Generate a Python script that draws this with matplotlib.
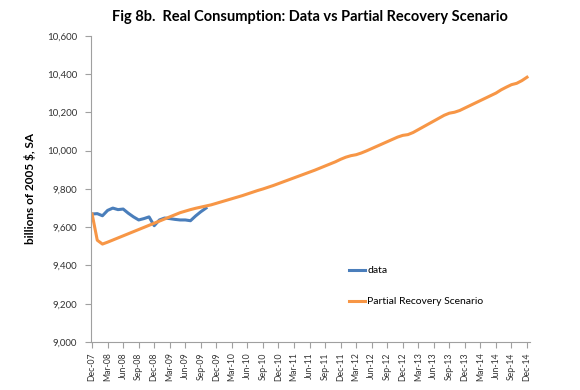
import pandas as pd
import matplotlib
matplotlib.use("Agg")
import matplotlib.pyplot as plt

# monthly, Dec-07 .. Dec-14
months = pd.date_range("2007-12-01", "2014-12-01", freq="MS")
month_labels = [d.strftime("%b-%y") for d in months]

# billions of 2005 $, SA
data_values = [9669, 9671, 9660, 9688, 9700, 9692, 9695, 9673, 9654, 9638,
               9645, 9654, 9608, 9638, 9648, 9645, 9641, 9638, 9638, 9634,
               9659, 9681, 9700]

scenario_values = [9669, 9532, 9512, 9522, 9533, 9544, 9555, 9566, 9577, 9588,
                   9599, 9610, 9621, 9632, 9643, 9654, 9665, 9676, 9684, 9692,
                   9699, 9705, 9711, 9717, 9725, 9733, 9741, 9749, 9757, 9765,
                   9774, 9783, 9792, 9800, 9809, 9818, 9828, 9838, 9848, 9858,
                   9868, 9878, 9888, 9898, 9909, 9920, 9931, 9942, 9955, 9966,
                   9974, 9979, 9988, 9999, 10011, 10023, 10035, 10047, 10059, 10071,
                   10080, 10084, 10095, 10110, 10125, 10140, 10155, 10170, 10185, 10196,
                   10201, 10210, 10223, 10236, 10249, 10262, 10275, 10288, 10301, 10318,
                   10332, 10345, 10352, 10366, 10384]

y_ticks = list(range(9000, 10601, 200))

plt.rcParams['font.family'] = ['Lato', 'DejaVu Sans']

fig = plt.figure(figsize=(5.8, 3.9), dpi=100)
ax = fig.add_axes([0.157, 0.123, 0.757, 0.785])

ax.plot(range(len(data_values)), data_values, color='#4A7EBB', lw=2.2, label='data')
ax.plot(range(len(scenario_values)), scenario_values, color='#F79646', lw=2.2,
        label='Partial Recovery Scenario')

ax.set_xlim(-0.2, 84.6)
ax.set_ylim(9000, 10600)
ax.set_yticks(y_ticks)
ax.set_yticklabels([f"{v:,}" for v in y_ticks], fontsize=7, color='#333333')
ax.set_xticks(range(0, len(month_labels), 3))
ax.set_xticklabels(month_labels[::3], rotation=90, fontsize=6.2, color='#333333')

for side in ['top', 'right']:
    ax.spines[side].set_visible(False)
for side in ['left', 'bottom']:
    ax.spines[side].set_color('#A0A0A0')
ax.tick_params(axis='both', colors='#A0A0A0', length=4, width=0.8, labelcolor='#333333')
ax.tick_params(axis='y', pad=6)

ax.set_ylabel('billions of 2005 $, SA', fontsize=8.5, fontweight='bold', labelpad=8)
fig.suptitle('Fig 8b.  Real Consumption: Data vs Partial Recovery Scenario',
             fontsize=10.5, fontweight='bold', x=0.535, y=0.975)

ax.legend(loc='upper left', bbox_to_anchor=(0.585, 0.342), bbox_transform=fig.transFigure,
          frameon=False, fontsize=7.5, handlelength=1.6, handletextpad=0.2,
          labelspacing=2.1)

fig.savefig('out.png', dpi=100)
